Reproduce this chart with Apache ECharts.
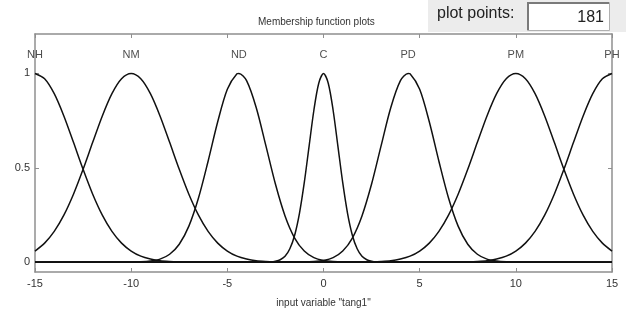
<!DOCTYPE html>
<html>
<head>
<meta charset="utf-8">
<script src="https://cdn.jsdelivr.net/npm/echarts@6/dist/echarts.min.js"></script>
<style>
  html, body { margin: 0; padding: 0; background: #fff; }
  #chart { width: 626px; height: 313px; }
</style>
</head>
<body>
<div id="chart"></div>
<script>
// membership function names and where their peaks sit
const mfNames = ["NH", "NM", "ND", "C", "PD", "PM", "PH"];
const mfCenters = [-15, -10, -4.4, 0, 4.4, 10, 15];

// curves
const nhX = [-15, -14.5, -14, -13.5, -13, -12.5, -12, -11.5, -11, -10.5, -10, -9.5, -9, -8.5, -8, -7.5, -7, 15];
const nhY = [1, 0.972, 0.893, 0.775, 0.635, 0.492, 0.36, 0.249, 0.163, 0.101, 0.059, 0.032, 0.017, 0.008, 0.004, 0.002, 0.001, 0];

const nmX = [-15, -14.5, -14, -13.5, -13, -12.5, -12, -11.5, -11, -10.5, -10, -9.5, -9, -8.5, -8, -7.5, -7, -6.5, -6, -5.5, -5, -4.5, -4, -3.5, -3, -2.5, -2, 15];
const nmY = [0.059, 0.101, 0.163, 0.249, 0.36, 0.492, 0.635, 0.775, 0.893, 0.972, 1, 0.972, 0.893, 0.775, 0.635, 0.492, 0.36, 0.249, 0.163, 0.101, 0.059, 0.032, 0.017, 0.008, 0.004, 0.002, 0.001, 0];

const ndX = [-15, -10, -9.5, -9, -8.5, -8, -7.5, -7, -6.5, -6, -5.5, -5, -4.5, -4.4, -4, -3.5, -3, -2.5, -2, -1.5, -1, -0.5, 0, 0.5, 1, 15];
const ndY = [0, 0.001, 0.002, 0.006, 0.016, 0.042, 0.095, 0.191, 0.34, 0.535, 0.744, 0.916, 0.998, 1, 0.962, 0.82, 0.619, 0.414, 0.245, 0.128, 0.059, 0.024, 0.009, 0.003, 0.001, 0];

const cX = [-15, -3, -2.75, -2.5, -2.25, -2, -1.75, -1.5, -1.25, -1, -0.75, -0.5, -0.25, 0, 0.25, 0.5, 0.75, 1, 1.25, 1.5, 1.75, 2, 2.25, 2.5, 2.75, 3, 15];
const cY = [0, 0, 0.001, 0.005, 0.013, 0.031, 0.071, 0.143, 0.259, 0.421, 0.614, 0.805, 0.947, 1, 0.947, 0.805, 0.614, 0.421, 0.259, 0.143, 0.071, 0.031, 0.013, 0.005, 0.001, 0, 0];

const pdX = [-15, -1, -0.5, 0, 0.5, 1, 1.5, 2, 2.5, 3, 3.5, 4, 4.4, 4.5, 5, 5.5, 6, 6.5, 7, 7.5, 8, 8.5, 9, 9.5, 10, 15];
const pdY = [0, 0.001, 0.003, 0.009, 0.024, 0.059, 0.128, 0.245, 0.414, 0.619, 0.82, 0.962, 1, 0.998, 0.916, 0.744, 0.535, 0.34, 0.191, 0.095, 0.042, 0.016, 0.006, 0.002, 0.001, 0];

const pmX = [-15, 2, 2.5, 3, 3.5, 4, 4.5, 5, 5.5, 6, 6.5, 7, 7.5, 8, 8.5, 9, 9.5, 10, 10.5, 11, 11.5, 12, 12.5, 13, 13.5, 14, 14.5, 15];
const pmY = [0, 0.001, 0.002, 0.004, 0.008, 0.017, 0.032, 0.059, 0.101, 0.163, 0.249, 0.36, 0.492, 0.635, 0.775, 0.893, 0.972, 1, 0.972, 0.893, 0.775, 0.635, 0.492, 0.36, 0.249, 0.163, 0.101, 0.059];

const phX = [-15, 7, 7.5, 8, 8.5, 9, 9.5, 10, 10.5, 11, 11.5, 12, 12.5, 13, 13.5, 14, 14.5, 15];
const phY = [0, 0.001, 0.002, 0.004, 0.008, 0.017, 0.032, 0.059, 0.101, 0.163, 0.249, 0.36, 0.492, 0.635, 0.775, 0.893, 0.972, 1];

const yTicks = [0, 0.5, 1];
const plotPoints = "181";

const curves = [
  [nhX, nhY], [nmX, nmY], [ndX, ndY], [cX, cY],
  [pdX, pdY], [pmX, pmY], [phX, phY],
];

const chart = echarts.init(document.getElementById("chart"));

const frame = "#8f8f8f";
const font = "Liberation Sans";

const lineSeries = curves.map(([xs, ys], i) => ({
  name: mfNames[i],
  type: "line",
  data: xs.map((x, j) => [x, ys[j]]),
  showSymbol: false,
  smooth: 0.3,
  lineStyle: { color: "#111", width: 1.5 },
  silent: true,
  z: 3,
}));

const option = {
  animation: false,
  backgroundColor: "#fff",
  grid: { left: 35, right: 14, top: 34, bottom: 37 },
  xAxis: [
    {
      type: "value",
      min: -15,
      max: 15,
      interval: 5,
      position: "bottom",
      name: 'input variable "tang1"',
      nameLocation: "middle",
      nameGap: 26,
      nameTextStyle: { fontFamily: font, fontSize: 10, color: "#333" },
      axisLine: { onZero: false, lineStyle: { color: frame, width: 1.5 } },
      axisTick: { inside: true, length: 4, lineStyle: { color: frame } },
      axisLabel: { fontFamily: font, fontSize: 11, color: "#333", margin: 6 },
      splitLine: { show: false },
    },
    {
      type: "value",
      min: -15,
      max: 15,
      interval: 5,
      position: "top",
      axisLine: { onZero: false, lineStyle: { color: frame, width: 1.5 } },
      axisTick: { inside: true, length: 4, lineStyle: { color: frame } },
      axisLabel: { show: false },
      splitLine: { show: false },
    },
  ],
  yAxis: [
    {
      type: "value",
      min: -0.052,
      max: 1.209,
      position: "left",
      axisLine: { show: true, onZero: false, lineStyle: { color: frame, width: 1.5 } },
      axisTick: { show: true, inside: true, length: 4, customValues: yTicks, lineStyle: { color: frame } },
      axisLabel: { fontFamily: font, fontSize: 11, color: "#333", margin: 5, customValues: yTicks },
      splitLine: { show: false },
    },
    {
      type: "value",
      min: -0.052,
      max: 1.209,
      position: "right",
      axisLine: { show: true, onZero: false, lineStyle: { color: frame, width: 1.5 } },
      axisTick: { show: true, inside: true, length: 4, customValues: yTicks, lineStyle: { color: frame } },
      axisLabel: { show: false },
      splitLine: { show: false },
    },
  ],
  series: [
    ...lineSeries,
    {
      type: "scatter",
      symbolSize: 0,
      silent: true,
      data: mfCenters.map((c) => [c, 1.1]),
      label: {
        show: true,
        position: "inside",
        formatter: (p) => mfNames[p.dataIndex],
        fontFamily: font,
        fontSize: 11,
        color: "#222",
      },
    },
  ],
  graphic: [
    {
      type: "text",
      left: 323 - 65,
      top: 17,
      style: {
        text: "Membership function plots",
        fontFamily: font,
        fontSize: 10,
        fill: "#333",
      },
    },
    {
      type: "rect",
      left: 428,
      top: 0,
      shape: { width: 198, height: 32 },
      style: { fill: "#ececec" },
      z: -1,
    },
    {
      type: "text",
      left: 437,
      top: 6,
      style: {
        text: "plot points:",
        fontFamily: font,
        fontSize: 16,
        fill: "#222",
      },
    },
    {
      type: "rect",
      left: 527,
      top: 2,
      shape: { width: 82, height: 28 },
      style: { fill: "#fff", stroke: "#b0b0b0", lineWidth: 1 },
    },
    {
      type: "polyline",
      shape: { points: [[528, 30], [528, 3], [609, 3]] },
      style: { stroke: "#7a7a7a", lineWidth: 2, fill: null },
    },
    {
      type: "text",
      right: 22,
      top: 10,
      style: {
        text: plotPoints,
        fontFamily: font,
        fontSize: 16,
        fill: "#222",
      },
    },
  ],
};

chart.setOption(option);
</script>
</body>
</html>
